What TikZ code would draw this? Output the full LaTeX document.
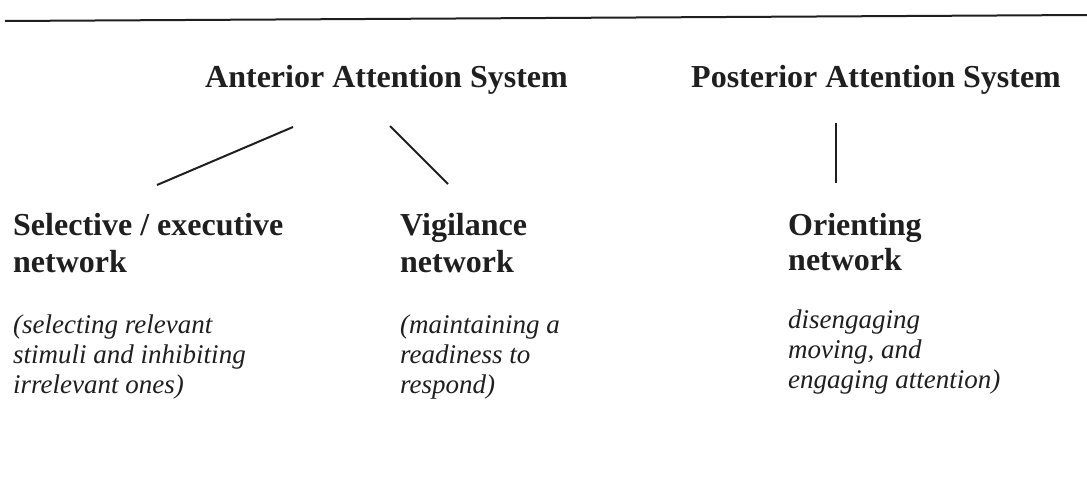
\documentclass[tikz,border=0pt]{standalone}
\usepackage{fontspec}
\setmainfont{Liberation Serif}
\begin{document}
\begin{tikzpicture}[x=1pt,y=-1pt,
  ink/.style={color=black!88},
  ttl/.style={ink,anchor=base west,inner sep=0pt,font=\fontsize{32}{37}\selectfont\bfseries},
  desc/.style={ink,anchor=base west,inner sep=0pt,font=\fontsize{27}{30}\selectfont\itshape},
  link/.style={ink,line width=2pt}]
\useasboundingbox (0,0) rectangle (1087,479);
\fill[white] (0,0) rectangle (1087,479);
% top rule
\coordinate (r1) at (5,21);
\coordinate (r2) at (1087,15);
\draw[link] (r1) -- (r2);
% system titles
\node[ttl] (ant) at (205,87) {Anterior Attention System};
\node[ttl] (post) at (691,87) {Posterior Attention System};
% networks
\node[ttl] (sel1) at (13,235) {Selective / executive};
\node[ttl] (sel2) at (13,272) {network};
\node[ttl] (vig1) at (400,235) {Vigilance};
\node[ttl] (vig2) at (400,272) {network};
\node[ttl] (ori1) at (788,235) {Orienting};
\node[ttl] (ori2) at (788,270) {network};
% descriptions
\node[desc] (sd1) at (13,333) {(selecting relevant};
\node[desc] (sd2) at (13,363) {stimuli and inhibiting};
\node[desc] (sd3) at (13,393) {irrelevant ones)};
\node[desc] (vd1) at (400,333) {(maintaining a};
\node[desc] (vd2) at (400,363) {readiness to};
\node[desc] (vd3) at (400,393) {respond)};
\node[desc] (od1) at (788,328) {disengaging};
\node[desc] (od2) at (788,358) {moving, and};
\node[desc] (od3) at (788,388) {engaging attention)};
% connectors
\coordinate (a1) at (293,127);
\coordinate (s1) at (157,185);
\coordinate (a2) at (390,126);
\coordinate (v1) at (448,184);
\coordinate (p1) at (836,123);
\coordinate (o1) at (836,183);
\draw[link] (a1) -- (s1);
\draw[link] (a2) -- (v1);
\draw[link] (p1) -- (o1);
\end{tikzpicture}
\end{document}
